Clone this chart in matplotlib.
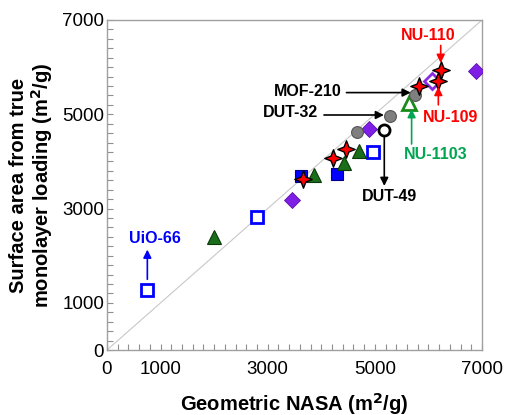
import matplotlib
matplotlib.use('Agg')
import matplotlib.pyplot as plt
from matplotlib.path import Path
from matplotlib.ticker import FixedLocator, MultipleLocator

plt.rcParams['font.family'] = ['Liberation Sans', 'DejaVu Sans']

# geometric NASA (x) vs surface area from true monolayer loading (y), m2/g
open_sq_x = [750, 2800, 4960]
open_sq_y = [1270, 2830, 4200]
blue_sq_x = [3630, 4300]
blue_sq_y = [3690, 3740]
tri_x = [1990, 3870, 4430, 4710]
tri_y = [2390, 3710, 3970, 4230]
open_tri_x = [5640]
open_tri_y = [5240]
diam_x = [3450, 4890, 6880]
diam_y = [3180, 4690, 5920]
open_diam_x = [6060]
open_diam_y = [5700]
grey_x = [4660, 5280, 5750]
grey_y = [4630, 4960, 5410]
open_circ_x = [5170]
open_circ_y = [4660]
star_x = [3650, 4210, 4460, 5830, 6170, 6230]
star_y = [3620, 4070, 4270, 5590, 5710, 5930]

# (label, colour, text xy, arrow tail, arrow head)
labels = ['UiO-66', 'DUT-49', 'DUT-32', 'MOF-210', 'NU-1103', 'NU-109', 'NU-110']
label_colors = ['#0000ff', 'black', 'black', 'black', '#00a651', '#ff0000', '#ff0000']
label_xy = [(900, 2370), (5280, 3250), (3430, 5030), (3740, 5480),
            (6140, 4140), (6420, 4940), (5990, 6680)]
arrow_tail = [(753, 1500), (5176, 4530), (4050, 4985), (4470, 5460),
              (5686, 4370), (6185, 5200), (6229, 6460)]
arrow_head = [(753, 2130), (5176, 3480), (5170, 4985), (5670, 5460),
              (5686, 5110), (6185, 5580), (6229, 6090)]

a = 0.28
star4 = Path([(0, 1), (a, a), (1, 0), (a, -a), (0, -1), (-a, -a), (-1, 0), (-a, a), (0, 1)],
             [Path.MOVETO] + [Path.LINETO] * 7 + [Path.CLOSEPOLY])

fig = plt.figure(figsize=(5.06, 4.15), dpi=100)
ax = fig.add_axes([107 / 506, 65 / 415, 375 / 506, 330 / 415])

ax.plot([0, 7000], [0, 7000], color='#c8c8c8', lw=0.8, zorder=1)

ax.plot(open_sq_x, open_sq_y, 's', ms=9, mfc='white', mec='#0000ff', mew=2, ls='none', zorder=3)
ax.plot(blue_sq_x, blue_sq_y, 's', ms=9, mfc='#0000ff', mec='#000080', mew=0.8, ls='none', zorder=3)
ax.plot(tri_x, tri_y, '^', ms=10, mfc='#1a6e1a', mec='#0a3a0a', mew=0.8, ls='none', zorder=3)
ax.plot(open_tri_x, open_tri_y, '^', ms=10, mfc='white', mec='#1a8a1a', mew=2, ls='none', zorder=3)
ax.plot(diam_x, diam_y, 'D', ms=8, mfc='#7f1fe6', mec='#5a10b0', mew=0.6, ls='none', zorder=3)
ax.plot(open_diam_x, open_diam_y, 'D', ms=8, mfc='white', mec='#8a2be2', mew=2, ls='none', zorder=3)
ax.plot(grey_x, grey_y, 'o', ms=8.5, mfc='#7f7f7f', mec='#555555', mew=0.8, ls='none', zorder=3)
ax.plot(open_circ_x, open_circ_y, 'o', ms=8, mfc='white', mec='black', mew=2, ls='none', zorder=3)
ax.plot(star_x, star_y, marker=star4, ms=12.5, mfc='#ff0000', mec='black', mew=1, ls='none', zorder=4)

for lab, col, xy, tail, head in zip(labels, label_colors, label_xy, arrow_tail, arrow_head):
    ax.text(xy[0], xy[1], lab, color=col, fontsize=11.5, fontweight='bold',
            ha='center', va='center', zorder=5)
    ax.annotate('', xy=head, xytext=tail,
                arrowprops=dict(arrowstyle='-|>', color=col, lw=1.2,
                                mutation_scale=12, shrinkA=0, shrinkB=0),
                zorder=5)

ax.set_xlim(0, 7000)
ax.set_ylim(0, 7000)
ticks = [0, 1000, 3000, 5000, 7000]
for axis in (ax.xaxis, ax.yaxis):
    axis.set_major_locator(FixedLocator(ticks))
    axis.set_minor_locator(MultipleLocator(200))
ax.tick_params(which='both', direction='in', color='#909090', length=4, width=0.8,
               labelsize=13.5, labelcolor='black')
ax.tick_params(axis='x', pad=8)
ax.tick_params(axis='y', pad=2)
for s in ax.spines.values():
    s.set_color('#a0a0a0')
    s.set_linewidth(1)

ax.set_xlabel('Geometric NASA (m$^\\mathbf{2}$/g)', fontsize=14.5, fontweight='bold', labelpad=9)
ax.set_ylabel('Surface area from true\nmonolayer loading (m$^\\mathbf{2}$/g)',
              fontsize=14.5, fontweight='bold', labelpad=5, linespacing=1.05)

fig.savefig('out.png', dpi=100)
